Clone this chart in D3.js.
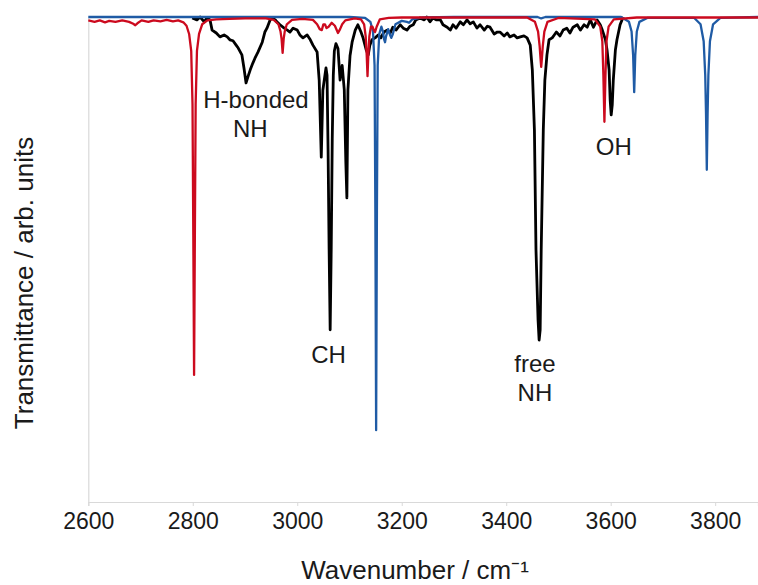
<!DOCTYPE html>
<html><head><meta charset="utf-8">
<script src="https://cdn.jsdelivr.net/npm/d3@7"></script>
<style>html,body{margin:0;padding:0;background:#fff;}svg{display:block;font-family:"Liberation Sans",Arial,sans-serif;}</style>
</head><body><svg id="c" width="758" height="585"></svg>
<script>
// x-axis ticks
const xTicks = [2600, 2800, 3000, 3200, 3400, 3600, 3800];
// Experimental spectrum (wavenumber, transmittance)
const expWav = [2799,2808,2814,2822,2827,2833,2837,2845,2852,2860,2866,2871,2877,2883,2887,2894,2898,2902,2906,2910,2915,2919,2925,2933,2938,2942,2948,2952,2958,2961,2967,2975,2981,2986,2992,3000,3005,3011,3019,3025,3030,3038,3042,3046,3049,3053,3055,3057,3059,3061,3063,3065,3067,3069,3071,3074,3078,3082,3086,3090,3093,3095,3097,3101,3105,3111,3116,3122,3126,3132,3136,3139,3143,3149,3155,3160,3166,3172,3178,3183,3189,3197,3203,3210,3216,3222,3227,3235,3243,3248,3254,3260,3266,3274,3279,3287,3293,3298,3304,3312,3318,3325,3331,3337,3344,3350,3358,3364,3369,3377,3383,3388,3396,3402,3407,3415,3421,3427,3434,3440,3446,3450,3454,3457,3461,3463,3465,3467,3471,3474,3478,3482,3488,3492,3496,3503,3509,3516,3522,3528,3536,3542,3549,3555,3561,3567,3574,3580,3584,3590,3593,3597,3599,3601,3603,3605,3609,3612,3618,3624];
const expT = [0.998,0.994,1.0,0.990,0.998,0.994,0.973,0.967,0.959,0.963,0.959,0.953,0.951,0.942,0.936,0.922,0.895,0.864,0.878,0.891,0.905,0.915,0.928,0.948,0.969,0.977,0.994,0.998,0.994,0.990,0.984,0.977,0.973,0.969,0.977,0.973,0.963,0.957,0.963,0.953,0.942,0.928,0.870,0.711,0.849,0.880,0.895,0.880,0.726,0.520,0.355,0.520,0.750,0.880,0.930,0.945,0.935,0.870,0.900,0.850,0.700,0.627,0.850,0.920,0.948,0.973,0.984,0.969,0.957,0.932,0.922,0.942,0.953,0.957,0.963,0.957,0.969,0.973,0.967,0.979,0.973,0.984,0.977,0.973,0.981,0.984,0.994,0.998,0.994,1.0,0.990,0.998,0.994,0.994,0.984,0.979,0.973,0.984,0.977,0.990,0.984,0.994,0.986,0.990,0.977,0.984,0.973,0.981,0.979,0.965,0.969,0.969,0.961,0.967,0.959,0.963,0.957,0.959,0.961,0.957,0.942,0.891,0.767,0.520,0.375,0.334,0.355,0.520,0.767,0.870,0.922,0.953,0.957,0.963,0.969,0.961,0.973,0.977,0.967,0.979,0.984,0.973,0.984,0.979,0.994,0.979,0.994,0.984,0.973,0.953,0.932,0.891,0.829,0.798,0.819,0.870,0.932,0.953,0.984,1.0];
// Computed spectrum 1 (red)
const redWav = [2600,2612,2622,2632,2640,2652,2665,2678,2686,2690,2694,2702,2715,2725,2738,2750,2762,2772,2782,2788,2793,2797,2799.5,2801,2802.5,2804,2805.5,2808,2812,2818,2828,2845,2870,2900,2940,2955,2964,2968,2970,2972,2974,2976,2980,2990,3010,3030,3038,3043,3047,3050,3053,3056,3060,3066,3072,3078,3082,3086,3092,3110,3122,3128,3131,3133,3134.5,3136,3138,3141,3144,3147,3149,3152,3158,3175,3200,3300,3440,3455,3461,3464,3466,3467,3468,3470,3473,3479,3500,3570,3580,3584,3586,3588,3590,3592,3596,3606,3650,3882];
const redT = [0.993,0.990,0.993,0.989,0.992,0.990,0.993,0.990,0.986,0.983,0.987,0.993,0.990,0.993,0.991,0.994,0.991,0.993,0.989,0.982,0.965,0.930,0.820,0.550,0.262,0.550,0.820,0.930,0.965,0.985,0.993,0.995,0.996,0.997,0.997,0.994,0.985,0.970,0.955,0.926,0.955,0.970,0.985,0.994,0.996,0.994,0.985,0.975,0.973,0.985,0.985,0.977,0.980,0.988,0.982,0.967,0.975,0.985,0.993,0.997,0.995,0.985,0.960,0.920,0.878,0.920,0.960,0.980,0.980,0.972,0.969,0.980,0.995,0.998,0.999,0.999,0.999,0.990,0.970,0.940,0.910,0.897,0.910,0.940,0.970,0.990,0.998,0.995,0.980,0.950,0.880,0.784,0.880,0.950,0.980,0.995,0.999,0.999];
// Computed spectrum 2 (blue)
const blueWav = [2600,3100,3130,3140,3145,3148,3149.5,3151,3152.5,3154,3157,3161,3164,3166,3168,3170,3174,3177,3180,3183,3188,3200,3210,3214,3220,3240,3300,3460,3467,3475,3620,3635,3640,3643,3645,3647,3650,3655,3670,3760,3772,3778,3781,3782.5,3784,3785.5,3787,3790,3796,3810,3882];
const blueT = [1,1,0.998,0.990,0.970,0.900,0.600,0.148,0.600,0.900,0.965,0.980,0.970,0.955,0.948,0.960,0.975,0.965,0.957,0.965,0.985,0.992,0.990,0.988,0.995,0.999,1,1,0.997,1,1,0.990,0.970,0.920,0.845,0.920,0.970,0.990,0.998,0.998,0.985,0.950,0.880,0.800,0.685,0.800,0.880,0.950,0.985,0.998,1];
// Peak annotations (first line position; following lines stacked below)
const labelLines = [["H-bonded","NH"],["CH"],["free","NH"],["OH"]];
const labelWav = [[2921, 2910], [3060], [3455, 3455], [3606]];
const labelT = [0.812, 0.287, 0.268, 0.716];

const svg = d3.select("#c");
const x = d3.scaleLinear().domain([2600, 3882]).range([88.3, 758]);
const y = d3.scaleLinear().domain([0, 1]).range([502, 17]);

// axes
const xAxis = d3.axisBottom(x).tickValues(xTicks).tickSize(4).tickPadding(7).tickFormat(d3.format("d"));
const gx = svg.append("g").attr("transform", "translate(0,502)").call(xAxis);
gx.select(".domain").attr("stroke", "#d9d9d9").attr("stroke-width", 1.2);
gx.selectAll(".tick line").attr("stroke", "#d9d9d9");
gx.selectAll(".tick text").attr("fill", "#1a1a1a").attr("font-size", 23).attr("font-family", '"Liberation Sans",Arial,sans-serif');

const yAxis = d3.axisLeft(y).tickValues([]).tickSize(0);
const gy = svg.append("g").attr("transform", "translate(88.3,0)").call(yAxis);
gy.select(".domain").attr("stroke", "#d9d9d9").attr("stroke-width", 1.2);

// lines
const mk = (w, t) => w.map((v, i) => [v, t[i]]);
const line = d3.line().x(d => x(d[0])).y(d => y(d[1]));
svg.append("path").datum(mk(expWav, expT)).attr("d", line).attr("fill", "none").attr("stroke", "#000").attr("stroke-width", 2.8).attr("stroke-linejoin", "round");
svg.append("path").datum(mk(blueWav, blueT)).attr("d", line).attr("fill", "none").attr("stroke", "#1f5ba5").attr("stroke-width", 2.3).attr("stroke-linejoin", "round");
svg.append("path").datum(mk(redWav, redT)).attr("d", line).attr("fill", "none").attr("stroke", "#cc0a1e").attr("stroke-width", 2.3).attr("stroke-linejoin", "round");

// annotations
labelLines.forEach((ls, i) => {
  const t = svg.append("text").attr("text-anchor", "middle").attr("font-size", 24).attr("fill", "#1a1a1a")
    .attr("y", y(labelT[i]));
  ls.forEach((s, j) => t.append("tspan").attr("x", x(labelWav[i][j])).attr("dy", j === 0 ? 0 : 29).text(s));
});

// axis titles
svg.append("text").attr("x", 415).attr("y", 579).attr("text-anchor", "middle").attr("font-size", 26).attr("fill", "#1a1a1a").text("Wavenumber / cm\u207B\u00B9");
svg.append("text").attr("transform", "translate(33,283) rotate(-90)").attr("text-anchor", "middle").attr("font-size", 26).attr("fill", "#1a1a1a").text("Transmittance / arb. units");
</script></body></html>
